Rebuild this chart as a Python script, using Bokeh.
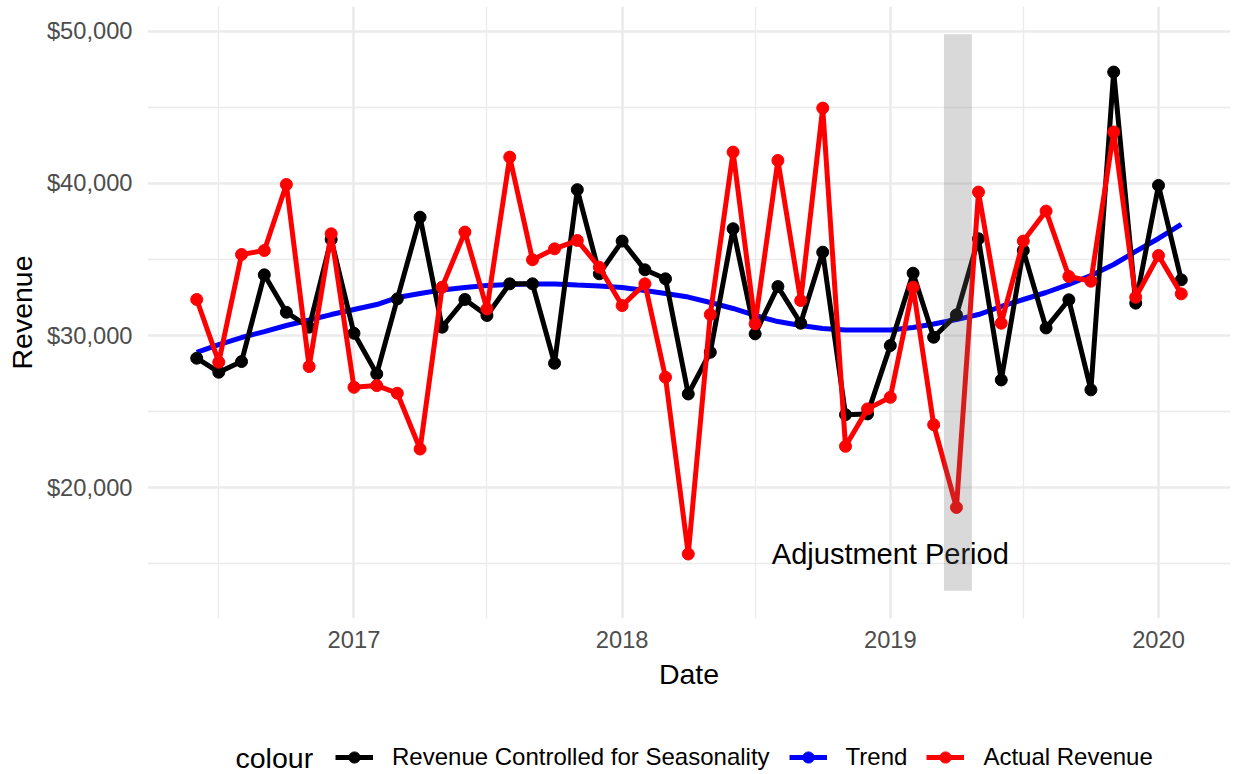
import pandas as pd
from bokeh.plotting import figure
from bokeh.layouts import column
from bokeh.models import (ColumnDataSource, Range1d, FixedTicker, DatetimeTickFormatter,
                          NumeralTickFormatter, Legend, LegendItem, Label)
from bokeh.embed import file_html
from bokeh.resources import INLINE
from bokeh.core.properties import value

# ---------------- data ----------------
first_month = "2016-06-01"
last_month = "2020-02-01"
months = pd.date_range(first_month, last_month, freq="MS")

actual_revenue = [32370, 28250, 35330, 35590, 39930, 27960, 36690,
                  26600, 26710, 26210, 22540, 33180, 36800, 31750, 41730, 34980, 35700, 36250, 34490,
                  31970, 33400, 27260, 15640, 31380, 42060, 30770, 41510, 32300, 44950, 22720, 25180,
                  25940, 33180, 24140, 18700, 39430, 30810, 36210, 38180, 33880, 33570, 43380, 32520,
                  35260, 32740]

controlled_revenue = [28510, 27590, 28290, 33990, 31530, 30550, 36320,
                      30150, 27480, 32410, 37780, 30550, 32370, 31320, 33400, 33400, 28180, 39590, 34060,
                      36210, 34320, 33730, 26160, 28900, 37020, 30110, 33220, 30810, 35480, 24800, 24850,
                      29340, 34100, 29890, 31360, 36360, 27080, 35590, 30500, 32350, 26430, 47320, 32130,
                      39870, 33660]

trend_revenue = [28900, 29410, 29870, 30260, 30660, 31020, 31380,
                 31710, 32040, 32500, 32760, 33000, 33160, 33290, 33360, 33390, 33390, 33320, 33260,
                 33160, 32960, 32760, 32530, 32170, 31780, 31320, 30920, 30660, 30460, 30360, 30360,
                 30360, 30530, 30760, 31050, 31380, 31910, 32370, 32830, 33360, 33950, 34670, 35530,
                 36380, 37300]

adj_start = [pd.Timestamp("2019-03-15")]
adj_end = [pd.Timestamp("2019-04-22")]
adj_bottom = [13230]
adj_top = [49800]
adj_label = ["Adjustment Period"]
adj_label_x = [pd.Timestamp("2019-01-01")]
adj_label_y = [min(actual_revenue)]

year_ticks = ["2017-01-01", "2018-01-01", "2019-01-01", "2020-01-01"]
year_minor = ["2016-07-01", "2017-07-01", "2018-07-01", "2019-07-01"]
y_ticks = [20000, 30000, 40000, 50000]
y_minor = [15000, 25000, 35000, 45000]

legend_title = "colour"
legend_labels = ["Revenue Controlled for Seasonality", "Trend", "Actual Revenue"]
legend_columns = ["controlled", "trend", "actual"]
legend_colors = ["#000000", "#0000FF", "#FF0000"]

# ---------------- layout ----------------
FONT = "Liberation Sans"
W = 1235
H_MAIN, H_LEG = 740, 34
BL, BR, BT, BB = 147, 5, 6, 122

def ms(t):
    return pd.Timestamp(t).value / 1e6

x0, x1 = ms(first_month), ms(last_month)
xpad = (x1 - x0) * 0.05
xr = Range1d(x0 - xpad, x1 + xpad)
ypad = (adj_top[0] - adj_bottom[0]) * 0.05
yr = Range1d(adj_bottom[0] - ypad, adj_top[0] + ypad)

p = figure(width=W, height=H_MAIN, x_axis_type="datetime", x_range=xr, y_range=yr,
           output_backend="svg", toolbar_location=None,
           min_border_left=BL, min_border_right=BR, min_border_top=BT, min_border_bottom=BB)
p.outline_line_color = None
p.background_fill_color = "white"
p.border_fill_color = "white"

src = ColumnDataSource(dict(date=months, actual=actual_revenue,
                            controlled=controlled_revenue, trend=trend_revenue))

LW = 5
PS = 12
p.line("date", "trend", source=src, line_color=legend_colors[1], line_width=LW)
p.line("date", "controlled", source=src, line_color=legend_colors[0], line_width=LW)
p.scatter("date", "controlled", source=src, size=PS, color=legend_colors[0])
p.line("date", "actual", source=src, line_color=legend_colors[2], line_width=LW)
p.scatter("date", "actual", source=src, size=PS, color=legend_colors[2])

p.text(x=adj_label_x, y=adj_label_y, text=adj_label, text_font=value(FONT),
       text_font_size="29px", text_align="center", text_baseline="middle",
       text_color="black")

p.quad(left=adj_start, right=adj_end, bottom=adj_bottom, top=adj_top,
       fill_color="#696969", fill_alpha=0.25, line_color=None)

# axes
xa = p.xaxis[0]
xa.ticker = FixedTicker(ticks=[ms(t) for t in year_ticks], minor_ticks=[ms(t) for t in year_minor])
xa.formatter = DatetimeTickFormatter(years="%Y", months="%Y", days="%Y", hours="%Y",
                                     hourmin="%Y", minutes="%Y", minsec="%Y", seconds="%Y",
                                     milliseconds="%Y", microseconds="%Y", context=None)
ya = p.yaxis[0]
ya.ticker = FixedTicker(ticks=y_ticks, minor_ticks=y_minor)
ya.formatter = NumeralTickFormatter(format="$0,0")

for ax in (xa, ya):
    ax.axis_line_color = None
    ax.major_tick_line_color = None
    ax.minor_tick_line_color = None
    ax.major_tick_in = 0
    ax.major_tick_out = 0
    ax.minor_tick_in = 0
    ax.minor_tick_out = 0
    ax.major_label_text_font = FONT
    ax.major_label_text_font_size = "23.7px"
    ax.major_label_text_color = "#4D4D4D"
    ax.axis_label_text_font = FONT
    ax.axis_label_text_font_size = "28.5px"
    ax.axis_label_text_font_style = "normal"
    ax.axis_label_text_color = "black"

xa.axis_label = "Date"
xa.major_label_standoff = 12
xa.axis_label_standoff = 7
ya.axis_label = "Revenue"
ya.major_label_standoff = 15
ya.axis_label_standoff = 6

for g in (p.xgrid[0], p.ygrid[0]):
    g.grid_line_color = "#EBEBEB"
    g.grid_line_width = 2.6
    g.minor_grid_line_color = "#EBEBEB"
    g.minor_grid_line_width = 1.3
p.xgrid[0].ticker = xa.ticker
p.ygrid[0].ticker = ya.ticker

# ---------------- legend strip (frame aligned with main plot; pixel coordinates) ----------------
lg = figure(width=W, height=H_LEG, x_range=Range1d(BL, W - BR), y_range=Range1d(0, H_LEG),
            output_backend="svg", toolbar_location=None,
            min_border_left=BL, min_border_right=BR, min_border_top=0, min_border_bottom=0)
lg.axis.visible = False
lg.grid.visible = False
lg.outline_line_color = None
lg.background_fill_color = "white"
lg.border_fill_color = "white"

items = []
for lab, colname, col in zip(legend_labels, legend_columns, legend_colors):
    # key renderers share the real data (which falls outside this strip's ranges)
    r_line = lg.line("date", colname, source=src, line_color=col, line_width=LW)
    r_pt = lg.scatter("date", colname, source=src, size=PS, color=col)
    items.append(LegendItem(label=lab, renderers=[r_line, r_pt]))

legend = Legend(items=items, orientation="horizontal", location=(335 - BL, 3),
                glyph_width=38, glyph_height=28, label_height=28, label_standoff=19, spacing=19,
                padding=0, margin=0, border_line_color=None, background_fill_alpha=0,
                label_text_font=FONT, label_text_font_size="24px", label_text_color="black")
lg.add_layout(legend, "center")
lg.add_layout(Label(x=235, y=H_LEG / 2, text=legend_title, text_font=FONT,
                    text_font_size="28.5px", text_align="left", text_baseline="middle",
                    text_color="black"))

layout = column(p, lg, spacing=0)
open("out.html", "w").write(file_html(layout, INLINE))
